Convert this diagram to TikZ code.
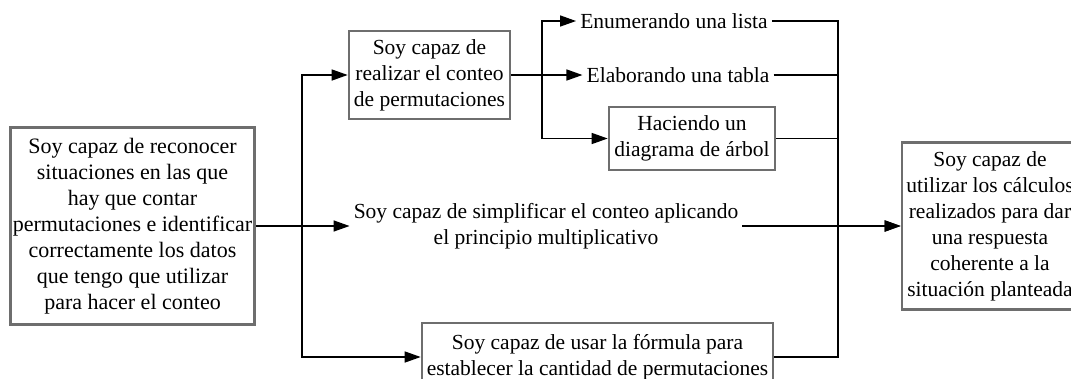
\documentclass[tikz,border=0pt]{standalone}
\usepackage{fontspec}
\setmainfont{Liberation Serif}
\newfontfamily\romana{Liberation Serif}
\usepackage{tikz}
\usetikzlibrary{arrows.meta}
\usetikzlibrary{positioning}
\definecolor{borde}{RGB}{110,110,110}
\tikzstyle{letra}=[font=\romana\fontsize{21.5}{26}\selectfont,align=center]
\tikzstyle{caja}=[letra,draw=borde,line width=2.6pt,fill=white,inner sep=0pt]
\tikzstyle{texto}=[letra,inner sep=4pt]
\tikzstyle{linea}=[line width=1.4pt]
\tikzstyle{flecha}=[linea,-{Triangle[length=16pt,width=11pt]}]

\begin{document}
\begin{tikzpicture}[x=1pt,y=-1pt]
\useasboundingbox (0,0) rectangle (1071,378);
% cajas
\node[caja,font=\romana\fontsize{22}{26}\selectfont,minimum width=244pt,minimum height=197pt] (sit) at (132.5,226)
 {Soy capaz de reconocer\\situaciones en las que\\hay que contar\\permutaciones e identificar\\correctamente los datos\\que tengo que utilizar\\para hacer el conteo};
\node[caja,minimum width=161pt,minimum height=88pt] (conteo) at (429.5,75)
 {Soy capaz de\\realizar el conteo\\de permutaciones};
\node[texto] (lista) at (674,21) {Enumerando una lista};
\node[texto] (tabla) at (678,75) {Elaborando una tabla};
\node[caja,minimum width=166pt,minimum height=63pt] (arbol) at (692,138.5)
 {Haciendo un\\diagrama de árbol};
\node[texto] (simpl) at (546,226)
 {Soy capaz de simplificar el conteo aplicando\\el principio multiplicativo};
\node[caja,minimum width=351pt,minimum height=68pt] (formula) at (597.5,357)
 {Soy capaz de usar la fórmula para\\establecer la cantidad de permutaciones};
\node[caja,minimum width=176pt,minimum height=167pt] (calc) at (990,226)
 {Soy capaz de\\utilizar los cálculos\\realizados para dar\\una respuesta\\coherente a la\\situación planteada};
% troncos
\coordinate (tizq) at (302,226);
\coordinate (tmed) at (542,75);
\coordinate (tder) at (838,226);
% conectores
\draw[flecha] (sit.east) -- (simpl.west);
\draw[flecha] (tizq) |- (conteo.west);
\draw[flecha] (tizq) |- (formula.west);
\draw[flecha] (conteo.east) -- (tabla.west);
\draw[flecha] (tmed) |- (lista.west);
\draw[flecha] (tmed) |- (arbol.west);
\draw[linea] (lista.east) -| (formula.east -| tder) -- (formula.east);
\draw[linea] (tabla.east) -- (tabla.east -| tder);
\draw[linea] (arbol.east) -- (arbol.east -| tder);
\draw[flecha] (simpl.east) -- (calc.west);
\draw[flecha,line width=2pt] (tder) -- (calc.west);
\end{tikzpicture}
\end{document}
